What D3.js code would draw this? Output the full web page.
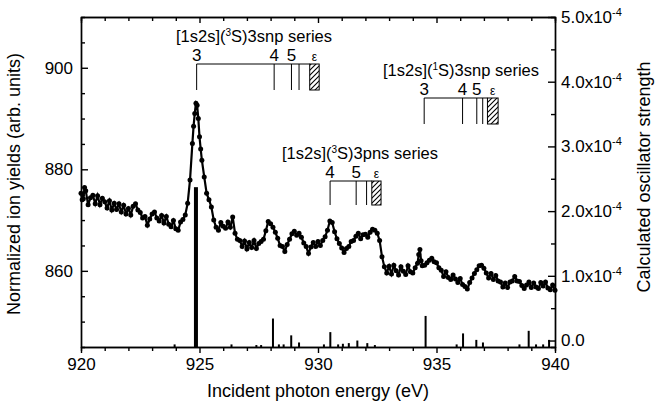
<!doctype html>
<html>
<head>
<script src="https://d3js.org/d3.v7.min.js"></script>
<style>
  body { margin: 0; background: #fff; }
  svg { font-family: "Liberation Sans", Arial, sans-serif; }
  .axis path, .axis line { stroke: #000; stroke-width: 1.4; }
  .axis text { font-size: 17px; fill: #000; font-family: "Liberation Sans", Arial, sans-serif; }
  .curve { fill: none; stroke: #000; stroke-width: 2.2; }
  .dot { fill: #000; }
  .stick { fill: #000; }
  .bracket { fill: none; stroke: #000; stroke-width: 1; }
  .label { font-size: 18px; fill: #000; }
</style>
</head>
<body>
<svg width="670" height="407"></svg>
<script>
// measured ion yield: [photon energy (eV), normalized yield]
var ionYield = [
  [920.0,875.3],[920.05,874.0],[920.1,874.2],[920.15,876.4],[920.2,875.8],[920.3,873.0],[920.4,874.4],[920.5,874.9],
  [920.6,873.2],[920.7,874.8],[920.8,873.0],[920.9,874.3],[921.0,873.6],[921.1,872.4],[921.2,873.8],[921.3,872.0],
  [921.4,873.3],[921.5,872.1],[921.6,873.2],[921.7,871.6],[921.8,872.9],[921.9,871.2],[922.0,872.3],[922.1,871.0],
  [922.2,872.7],[922.3,873.2],[922.4,872.0],[922.5,871.5],[922.6,870.4],[922.7,870.7],[922.8,869.0],[922.9,870.2],
  [923.0,871.2],[923.1,871.6],[923.2,870.4],[923.3,869.8],[923.4,870.9],[923.5,869.4],[923.6,870.7],[923.7,869.2],
  [923.8,868.7],[923.9,869.9],[924.0,868.3],[924.1,868.0],[924.2,869.6],[924.3,870.1],[924.4,871.0],[924.5,873.3],
  [924.6,877.9],[924.7,885.1],[924.75,888.5],[924.8,891.0],[924.85,893.0],[924.9,892.6],[924.95,890.0],[925.0,886.4],
  [925.05,884.0],[925.1,881.8],[925.2,878.5],[925.3,875.3],[925.4,874.0],[925.5,872.6],[925.6,870.0],[925.7,868.6],
  [925.8,868.0],[925.9,869.5],[926.0,868.8],[926.1,868.4],[926.2,869.6],[926.3,868.6],[926.4,870.6],[926.5,867.4],
  [926.6,866.2],[926.7,866.0],[926.8,864.8],[926.9,865.9],[927.0,864.3],[927.1,865.6],[927.2,864.6],[927.3,866.0],
  [927.4,864.4],[927.5,865.4],[927.6,865.8],[927.7,866.2],[927.8,867.9],[927.9,869.7],[928.0,869.3],[928.1,868.6],
  [928.2,867.6],[928.3,866.4],[928.4,865.0],[928.5,864.8],[928.6,863.8],[928.7,865.2],[928.8,866.2],[928.9,867.3],
  [929.0,867.8],[929.1,867.0],[929.2,867.4],[929.3,866.6],[929.4,865.5],[929.5,864.8],[929.6,863.4],[929.7,864.7],
  [929.8,865.6],[929.9,864.8],[930.0,865.8],[930.1,865.0],[930.2,866.0],[930.3,866.7],[930.4,868.0],[930.5,869.8],
  [930.6,869.5],[930.7,867.7],[930.8,866.3],[930.9,865.4],[931.0,864.5],[931.1,863.6],[931.2,864.4],[931.3,864.8],
  [931.4,865.8],[931.5,866.0],[931.6,866.8],[931.7,867.4],[931.8,866.3],[931.9,867.1],[932.0,867.2],[932.1,866.6],
  [932.2,867.6],[932.3,868.2],[932.4,868.0],[932.5,867.4],[932.6,866.0],[932.7,862.8],[932.8,860.8],[932.9,859.6],
  [933.0,860.9],[933.1,859.4],[933.2,861.1],[933.3,860.0],[933.4,859.2],[933.5,860.8],[933.6,859.9],[933.7,859.3],
  [933.8,861.0],[933.9,859.8],[934.0,859.6],[934.1,860.6],[934.2,861.5],[934.25,863.2],[934.3,864.2],[934.35,862.0],
  [934.4,861.0],[934.5,861.1],[934.6,861.6],[934.7,862.1],[934.8,862.5],[934.9,861.8],[935.0,861.6],[935.1,860.6],
  [935.2,860.1],[935.3,858.9],[935.4,859.8],[935.5,858.7],[935.6,858.3],[935.7,859.2],[935.8,858.4],[935.9,857.7],
  [936.0,858.5],[936.1,857.3],[936.2,856.9],[936.3,856.4],[936.4,857.7],[936.5,858.6],[936.6,859.5],[936.7,860.2],
  [936.8,861.0],[936.9,861.1],[937.0,860.5],[937.1,859.6],[937.2,858.6],[937.3,859.5],[937.4,858.3],[937.5,859.1],
  [937.6,858.0],[937.7,857.8],[937.8,856.8],[937.9,857.6],[938.0,856.7],[938.1,857.8],[938.2,858.0],[938.3,858.9],
  [938.4,858.0],[938.5,857.9],[938.6,857.1],[938.7,856.5],[938.8,857.2],[938.9,857.8],[939.0,856.7],[939.1,857.6],
  [939.2,856.8],[939.3,856.5],[939.4,857.7],[939.5,857.0],[939.6,857.8],[939.7,856.6],[939.8,856.3],[939.9,857.2],
  [940.0,856.2]
];

// calculated oscillator strengths: [energy (eV), f in units of 1e-4]
var oscStrength = [
  [923.95,-0.06],[924.85,2.37],[926.35,-0.06],[927.4,-0.07],[927.6,-0.07],[928.1,0.34],[928.35,-0.06],
  [928.55,-0.06],[928.87,0.08],[929.2,-0.03],[930.25,-0.06],[930.52,0.13],[930.85,-0.06],[931.05,-0.05],
  [931.3,-0.04],[931.66,0.0],[932.08,-0.04],[932.4,-0.07],[934.54,0.38],[935.85,-0.06],[936.12,0.11],
  [936.68,0.01],[936.96,-0.03],[938.5,-0.06],[938.89,0.15],[939.2,-0.06],[939.5,-0.06],[939.75,0.01]
];

var xTicks = [920, 925, 930, 935, 940];
var leftTicks = [860, 880, 900];
var rightTicks = [0, 1, 2, 3, 4, 5];

// Rydberg series markers
var seriesTitles = [
  ["[1s2s](", "3", "S)3snp series"],
  ["[1s2s](", "1", "S)3snp series"],
  ["[1s2s](", "3", "S)3pns series"]
];
var seriesLevels = [
  [924.88, 928.15, 928.88, 929.2],
  [934.48, 936.1, 936.7, 936.95],
  [930.51, 931.61, 932.05]
];
var seriesLevelNames = [["3", "4", "5"], ["3", "4", "5"], ["4", "5"]];
var seriesLimits = [[929.65, 930.05], [937.15, 937.6], [932.27, 932.66]];

var svg = d3.select("svg");
var plotL = 81, plotR = 555, plotT = 17, plotB = 347;

var x = d3.scaleLinear().domain([920, 940]).range([plotL, plotR]);
var yL = d3.scaleLinear().domain([845, 910]).range([plotB, plotT]);
var yR = d3.scaleLinear().domain([-0.1, 5.0]).range([plotB, plotT]);

var defs = svg.append("defs");
defs.append("pattern")
    .attr("id", "hatch")
    .attr("patternUnits", "userSpaceOnUse")
    .attr("width", 5).attr("height", 5)
  .append("path")
    .attr("d", "M-1,1 l2,-2 M0,5 l5,-5 M4,6 l2,-2")
    .attr("stroke", "#000").attr("stroke-width", 1.1);

// stick spectrum
svg.append("g").selectAll("rect").data(oscStrength)
  .enter().append("rect")
    .attr("class", "stick")
    .attr("x", d => x(d[0]) - (d[1] > 1 ? 2 : 1))
    .attr("width", d => d[1] > 1 ? 4 : 2)
    .attr("y", d => yR(d[1]))
    .attr("height", d => yR(-0.1) - yR(d[1]));

// ion yield curve
var line = d3.line().x(d => x(d[0])).y(d => yL(d[1]));
svg.append("path").datum(ionYield).attr("class", "curve").attr("d", line);
svg.append("g").selectAll("circle").data(ionYield)
  .enter().append("circle")
    .attr("class", "dot")
    .attr("r", 2.5)
    .attr("cx", d => x(d[0]))
    .attr("cy", d => yL(d[1]));

// axes
var minorX = d3.range(920, 941, 1).filter(v => xTicks.indexOf(v) < 0);

svg.append("g").attr("class", "axis")
    .attr("transform", "translate(0," + plotB + ")")
    .call(d3.axisBottom(x).tickValues(minorX).tickSize(4).tickFormat(""));
svg.append("g").attr("class", "axis")
    .attr("transform", "translate(0," + plotB + ")")
    .call(d3.axisBottom(x).tickValues(xTicks).tickSizeInner(6).tickSizeOuter(0).tickPadding(5).tickFormat(d3.format("d")));

svg.append("g").attr("class", "axis")
    .attr("transform", "translate(0," + plotT + ")")
    .call(d3.axisTop(x).tickValues(minorX).tickSize(-4).tickFormat(""));
svg.append("g").attr("class", "axis")
    .attr("transform", "translate(0," + plotT + ")")
    .call(d3.axisTop(x).tickValues(xTicks).tickSizeInner(-6).tickSizeOuter(0).tickFormat(""));

var minorL = d3.range(850, 910, 5).filter(v => leftTicks.indexOf(v) < 0);
svg.append("g").attr("class", "axis")
    .attr("transform", "translate(" + plotL + ",0)")
    .call(d3.axisLeft(yL).tickValues(minorL).tickSize(-4).tickFormat(""));
svg.append("g").attr("class", "axis")
    .attr("transform", "translate(" + plotL + ",0)")
    .call(d3.axisLeft(yL).tickValues(leftTicks).tickSizeInner(-7).tickSizeOuter(0).tickPadding(8).tickFormat(d3.format("d")));

var minorR = [0.5, 1.5, 2.5, 3.5, 4.5];
svg.append("g").attr("class", "axis")
    .attr("transform", "translate(" + plotR + ",0)")
    .call(d3.axisRight(yR).tickValues(minorR).tickSize(-4).tickFormat(""));
var rAxis = svg.append("g").attr("class", "axis")
    .attr("transform", "translate(" + plotR + ",0)")
    .call(d3.axisRight(yR).tickValues(rightTicks).tickSizeInner(-7).tickSizeOuter(0).tickPadding(6));
rAxis.selectAll(".tick text").each(function(d) {
  var t = d3.select(this).text(null);
  if (d === 0) { t.text("0.0"); return; }
  t.append("tspan").text(d.toFixed(1) + "x10");
  t.append("tspan").attr("dy", -7).attr("font-size", 11).text("-4");
});

// axis titles
svg.append("text").attr("class", "label")
    .attr("x", 318).attr("y", 397).attr("text-anchor", "middle")
    .text("Incident photon energy (eV)");
svg.append("text").attr("class", "label")
    .attr("transform", "translate(20,184) rotate(-90)")
    .attr("text-anchor", "middle")
    .text("Normalized ion yields (arb. units)");
svg.append("text").attr("class", "label")
    .attr("transform", "translate(650,177) rotate(-90)")
    .attr("text-anchor", "middle")
    .text("Calculated oscillator strength");

// series brackets
var bracketTop = [64, 98, 181];
var bracketBottom = [90, 124, 205];
var titleX = [254, 461, 360];

seriesLevels.forEach(function(levels, i) {
  var g = svg.append("g");
  var t0 = bracketTop[i], t1 = bracketBottom[i];
  var lim = seriesLimits[i];

  g.append("path").attr("class", "bracket")
    .attr("d", "M" + x(levels[0]) + "," + t1 + "V" + t0 + "H" + x(lim[0]));
  levels.slice(1).forEach(function(e) {
    g.append("line").attr("class", "bracket")
      .attr("x1", x(e)).attr("x2", x(e)).attr("y1", t0).attr("y2", t1);
  });
  g.append("rect")
    .attr("x", x(lim[0])).attr("y", t0)
    .attr("width", x(lim[1]) - x(lim[0])).attr("height", t1 - t0)
    .attr("fill", "url(#hatch)").attr("stroke", "#000").attr("stroke-width", 1);

  seriesLevelNames[i].forEach(function(n, j) {
    g.append("text").attr("class", "label")
      .attr("x", x(levels[j])).attr("y", t0 - 3)
      .attr("text-anchor", "middle").style("font-size", "17px")
      .text(n);
  });
  g.append("text").attr("class", "label")
    .attr("x", (x(lim[0]) + x(lim[1])) / 2).attr("y", t0 - 3)
    .attr("text-anchor", "middle").style("font-size", "12px")
    .text("\u03b5");

  var title = g.append("text").attr("class", "label")
    .attr("x", titleX[i]).attr("y", t0 - 22)
    .attr("text-anchor", "middle").style("font-size", "16.5px");
  title.append("tspan").text(seriesTitles[i][0]);
  title.append("tspan").attr("dy", -6).style("font-size", "10px").text(seriesTitles[i][1]);
  title.append("tspan").attr("dy", 6).text(seriesTitles[i][2]);
});
</script>
</body>
</html>
